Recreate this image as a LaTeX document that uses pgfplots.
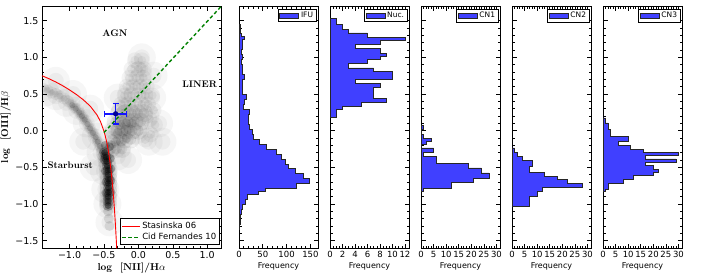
\documentclass[border=0pt]{standalone}
\usepackage{fontspec}
\usepackage{pgfplots}
\usepackage{pgfplotstable}
\pgfplotsset{compat=1.18}
\newfontfamily\dv{DejaVu Sans}
\definecolor{histblue}{RGB}{64,64,255}
\definecolor{cfgreen}{RGB}{0,128,0}
\definecolor{ptblue}{RGB}{20,20,255}
\definecolor{ptnavy}{RGB}{0,0,150}
\pgfplotsset{
  myaxis/.style={scale only axis, anchor=south west, height=242pt, ymin=-1.6, ymax=1.7,
    tick align=inside, major tick length=4.5pt, minor tick length=2.5pt,
    axis line style={line width=0.8pt}, every tick/.style={black, line width=0.6pt},
    ytick={-1.5,-1,-0.5,0,0.5,1,1.5}, minor y tick num=4,
    tick label style={font=\dv\fontsize{8.5}{10}\selectfont},
    /pgf/number format/assume math mode=true},
  hist/.style={myaxis, width=79pt, xmin=0, yticklabel=\empty,
    xlabel={Frequency}, xlabel style={font=\dv\fontsize{8}{9}\selectfont, yshift=2pt},
    legend style={at={(0.975,0.988)}, anchor=north east, font=\dv\fontsize{7.5}{8}\selectfont,
      draw=black, line width=0.8pt, inner sep=1pt, outer sep=0pt},
    legend image code/.code={\draw[fill=histblue, draw=black!85, line width=0.6pt] (0pt,-2.5pt) rectangle (19pt,2.5pt);}},
  hbar/.style={const plot mark right, fill=histblue, draw=black!85, line width=0.7pt},
  blob/.style n args={2}{forget plot, only marks, black, mark=*, mark size=#1,
    mark options={solid, fill=black, draw opacity=0, fill opacity=#2, line width=0pt}}
}
% density of the SDSS cloud
\pgfplotstableread{
x y
-1.35 0.52
-1.2 0.47
-1.05 0.38
-0.9 0.27
-0.75 0.1
-0.62 -0.08
-0.55 -0.3
-0.5 -0.55
-0.48 -0.8
-0.45 -1.0
-0.42 -1.25
-0.65 -0.5
-0.3 -0.35
-0.3 0.0
-0.2 0.25
-0.1 0.5
0.0 0.75
0.05 1.0
-0.05 0.0
0.1 0.2
0.2 0.45
0.3 0.1
0.35 -0.15
0.15 -0.15
0.22 0.75
-0.3 0.45
-1.2 0.68
-0.95 0.5
-0.8 -0.15
-0.7 0.3
-0.15 -0.4
}\haze
\pgfplotstableread{
x y
-1.38 0.57
-1.32 0.55
-1.26 0.52
-1.20 0.50
-1.14 0.47
-1.08 0.44
-1.02 0.40
-0.96 0.35
-0.91 0.30
-0.86 0.25
-0.82 0.20
-0.78 0.15
-0.74 0.09
-0.70 0.03
-0.66 -0.03
-0.62 -0.09
-0.59 -0.15
-0.56 -0.21
-0.53 -0.28
-0.50 -0.35
}\sbA
\pgfplotstableread{
x y
-0.96 0.35
-0.91 0.30
-0.86 0.25
-0.82 0.20
-0.78 0.15
-0.74 0.09
-0.70 0.03
-0.66 -0.03
-0.62 -0.09
-0.59 -0.15
-0.56 -0.21
-0.53 -0.28
-0.50 -0.35
}\sbB
\pgfplotstableread{
x y
-0.49 -0.30
-0.47 -0.36
-0.46 -0.42
-0.45 -0.48
-0.44 -0.54
-0.44 -0.60
-0.435 -0.66
-0.435 -0.72
-0.435 -0.78
-0.435 -0.84
-0.44 -0.90
-0.44 -0.96
-0.44 -1.02
}\stem
\pgfplotstableread{
x y
-0.48 -0.20
-0.42 -0.22
-0.50 -0.40
-0.41 -0.38
-0.48 -0.55
-0.40 -0.52
-0.47 -0.70
-0.40 -0.68
-0.47 -0.85
-0.40 -0.84
}\stemwide
\pgfplotstableread{
x y
-0.44 -1.10
-0.43 -1.20
-0.42 -1.30
}\stemtail
\pgfplotstableread{
x y
-0.40 -0.25
-0.32 -0.25
-0.24 -0.25
-0.38 -0.12
-0.29 -0.12
-0.20 -0.12
-0.11 -0.12
-0.36 0.00
-0.27 0.00
-0.18 0.00
-0.09 0.00
0.00 0.00
-0.33 0.12
-0.24 0.12
-0.15 0.12
-0.06 0.12
0.03 0.12
-0.28 0.24
-0.19 0.24
-0.10 0.24
-0.01 0.24
0.08 0.24
}\agnlow
\pgfplotstableread{
x y
-0.25 0.36
-0.15 0.36
-0.05 0.36
0.05 0.36
0.14 0.36
-0.20 0.48
-0.10 0.48
0.00 0.48
0.10 0.48
0.20 0.48
-0.17 0.60
-0.07 0.60
0.03 0.60
0.12 0.60
-0.13 0.72
-0.03 0.72
0.07 0.72
-0.10 0.84
0.00 0.84
0.08 0.84
-0.05 0.96
0.05 0.96
0.18 -0.05
0.24 0.08
0.10 -0.12
0.22 0.28
0.16 0.16
}\agnhigh
\pgfplotstableread{
x y
-0.33 -0.15
-0.25 -0.15
-0.17 -0.10
-0.30 -0.03
-0.22 -0.02
-0.14 0.02
-0.26 0.08
-0.18 0.10
-0.10 0.10
-0.40 -0.20
}\agncore
\begin{document}
\begin{tikzpicture}
\path[use as bounding box] (0,0) rectangle (702pt,277pt);

% ---------------- main BPT panel ----------------
\begin{axis}[myaxis, at={(42pt,29pt)}, width=179pt, xmin=-1.4, xmax=1.2,
  xtick={-1,-0.5,0,0.5,1}, xticklabels={−1.0,−0.5,0.0,0.5,1.0},
  yticklabels={−1.5,−1.0,−0.5,0.0,0.5,1.0,1.5},
  minor x tick num=4,
  tick label style={font=\dv\fontsize{9.5}{11}\selectfont},
  xlabel={log\ \ [NII]/H$\alpha$}, ylabel={log\ \ [OIII]/H$\beta$},
  label style={font=\bfseries\fontsize{10}{12}\selectfont},
  xlabel style={yshift=3pt}, ylabel style={yshift=-2pt},
  legend style={at={(0.995,0.012)}, anchor=south east, font=\dv\fontsize{8.5}{10}\selectfont,
    draw=black, line width=0.8pt, inner sep=1.5pt, row sep=-1pt},
  legend cell align=left,
  clip marker paths=true]
% grey cloud
\addplot[blob={14pt}{0.035}] table {\haze};
\addplot[blob={8pt}{0.04}] table {\haze};
\addplot[blob={6pt}{0.045}] table {\sbA};
\addplot[blob={3.5pt}{0.06}] table {\sbA};
\addplot[blob={5pt}{0.08}] table {\sbB};
\addplot[blob={3pt}{0.12}] table {\sbB};
\addplot[blob={9pt}{0.06}] table {\stem};
\addplot[blob={5.5pt}{0.25}] table {\stem};
\addplot[blob={3.5pt}{0.45}] table {\stem};
\addplot[blob={4.5pt}{0.25}] table {\stemwide};
\addplot[blob={5pt}{0.1}] table {\stemtail};
\addplot[blob={9pt}{0.06}] table {\agnlow};
\addplot[blob={5.5pt}{0.08}] table {\agnlow};
\addplot[blob={8pt}{0.045}] table {\agnhigh};
\addplot[blob={4.5pt}{0.05}] table {\agnhigh};
\addplot[blob={5pt}{0.1}] table {\agncore};
% Stasinska 06
\addplot[red, line width=0.9pt] coordinates {
(-1.4,0.749) (-1.3,0.709) (-1.2,0.664) (-1.1,0.613) (-1.0,0.556) (-0.9,0.493)
(-0.8,0.421) (-0.7,0.335) (-0.6,0.213) (-0.55,0.123) (-0.5,-0.007) (-0.48,-0.075)
(-0.46,-0.157) (-0.45,-0.204) (-0.44,-0.256) (-0.42,-0.375) (-0.4,-0.521)
(-0.38,-0.698) (-0.36,-0.916) (-0.35,-1.042) (-0.34,-1.182) (-0.33,-1.338)
(-0.32,-1.510) (-0.315,-1.604)
};
\addlegendentry{Stasinska 06}
% Cid Fernandes 10
\addplot[cfgreen, line width=1.4pt, dash pattern=on 3.5pt off 2.5pt] coordinates {(-0.5,-0.025) (1.2,1.692)};
\addlegendentry{Cid Fernandes 10}
% data point: -0.33 +- 0.16, 0.23 +- 0.14
\addplot[forget plot, color=ptblue, line width=1.5pt, mark=|, mark size=3pt, mark options={solid, draw=ptblue, line width=1.3pt}]
  coordinates {(-0.49,0.23) (-0.17,0.23)};
\addplot[forget plot, color=ptblue, line width=1.5pt, mark=-, mark size=3pt, mark options={solid, draw=ptblue, line width=1.3pt}]
  coordinates {(-0.33,0.09) (-0.33,0.37)};
\addplot[forget plot, only marks, mark=*, mark size=2.4pt, mark options={fill=ptnavy, draw=ptnavy}]
  coordinates {(-0.33,0.23)};
\node[font=\bfseries\fontsize{9.5}{11}\selectfont] at (axis cs:-0.34,1.33) {AGN};
\node[font=\bfseries\fontsize{9.5}{11}\selectfont] at (axis cs:0.89,0.63) {LINER};
\node[font=\bfseries\fontsize{9.5}{11}\selectfont] at (axis cs:-0.99,-0.47) {Starburst};
\end{axis}

% ---------------- IFU ----------------
\begin{axis}[hist, at={(239pt,29pt)}, xmax=166, xtick={0,50,100,150}, minor x tick num=4]
\addplot[hbar] coordinates {
(0,-1.35) (1,-1.35) (2,-1.28) (3,-1.21) (5,-1.145) (8,-1.077) (13,-1.009) (17,-0.941)
(40,-0.873) (56,-0.827) (121,-0.78) (148,-0.72) (135,-0.65) (118,-0.58) (103,-0.52)
(98,-0.464) (89,-0.395) (79,-0.327) (58,-0.259) (43,-0.191) (30,-0.123) (28,-0.055)
(21,0.014) (20,0.082) (19,0.15) (22,0.218) (10,0.286) (11,0.355) (16,0.423)
(7,0.491) (8,0.559) (6,0.627) (11,0.695) (8,0.764) (6,0.832) (5,0.9) (7,0.968)
(5,1.036) (6,1.105) (7,1.173) (11,1.241) (4,1.286) (3,1.332) (2,1.377) (0,1.445)
} --cycle;
\addlegendentry{IFU}
\end{axis}

% ---------------- Nuc ----------------
\begin{axis}[hist, at={(330pt,29pt)}, xmax=12.65, xtick={0,2,...,12}, minor x tick num=3]
\addplot[hbar] coordinates {
(0,0.182) (1,0.182) (2,0.286) (5,0.332) (9,0.386) (7,0.441) (8,0.595) (4,0.65)
(10,0.695) (7,0.809) (3,0.855) (6,0.914) (8,0.968) (9,1.014) (8,1.059) (4,1.118)
(8,1.173) (12,1.232) (6,1.277) (3,1.332) (2,1.386) (1,1.445) (0,1.536)
} --cycle;
\addlegendentry{Nuc.}
\end{axis}

% ---------------- CN1 ----------------
\begin{axis}[hist, at={(421pt,29pt)}, xmax=31.4, xtick={0,5,...,30}, minor x tick num=4]
\addplot[hbar] coordinates {
(0,-0.827) (1,-0.827) (12,-0.782) (21,-0.705) (27,-0.645) (24,-0.577) (19,-0.509)
(6,-0.45) (1,-0.35) (5,-0.295) (0,-0.236) (2,-0.191) (4,-0.145) (1,-0.1) (0,-0.05)
(1,0.023) (0,0.068)
} --cycle;
\addlegendentry{CN1}
\end{axis}

% ---------------- CN2 ----------------
\begin{axis}[hist, at={(512pt,29pt)}, xmax=31.4, xtick={0,5,...,30}, minor x tick num=4]
\addplot[hbar] coordinates {
(0,-1.032) (7,-1.032) (10,-0.895) (12,-0.827) (28,-0.768) (22,-0.714) (18,-0.668)
(13,-0.623) (7,-0.568) (8,-0.49) (4,-0.405) (2,-0.35) (1,-0.295) (0,-0.236)
} --cycle;
\addlegendentry{CN2}
\end{axis}

% ---------------- CN3 ----------------
\begin{axis}[hist, at={(603pt,29pt)}, xmax=31.4, xtick={0,5,...,30}, minor x tick num=4]
\addplot[hbar] coordinates {
(0,-0.827) (1,-0.827) (2,-0.805) (8,-0.714) (12,-0.668) (20,-0.614) (22,-0.568)
(20,-0.523) (17,-0.477) (29,-0.432) (17,-0.386) (30,-0.341) (16,-0.295) (11,-0.25)
(6,-0.2) (10,-0.145) (3,-0.077) (2,0.014) (1,0.105) (0,0.173)
} --cycle;
\addlegendentry{CN3}
\end{axis}
\end{tikzpicture}
\end{document}
